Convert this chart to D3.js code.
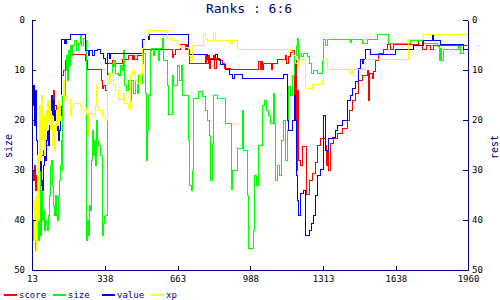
<!DOCTYPE html>
<html>
<head>
<meta charset="utf-8">
<script src="https://d3js.org/d3.v7.min.js"></script>
<style>
  body { margin: 0; background: #fff; }
  svg { display: block; }
  text { font-family: "DejaVu Sans Mono", monospace; }
</style>
</head>
<body>
<div id="chart"></div>
<script>
// ranks over time, one step series per stat
const seriesNames = ["score", "size", "value", "xp"];
const xTicks = [13, 338, 663, 988, 1313, 1638, 1960];
const rankTicks = [0, 10, 20, 30, 40, 50];

const score = [[13,30],[17,32],[22,29],[26,34],[31,31],[35,35],[40,30],[49,33],[53,27],[62,26],[71,28],[76,25],[84,22],[93,21],[102,17],[107,14],[111,17],[120,19],[129,18],[138,19],[143,11],[151,10],[160,8],[169,7.5],[178,6.7],[250,8],[259,9.8],[321,12],[326,13.6],[330,13],[339,14],[348,8.6],[370,8],[379,8.6],[415,7.8],[442,6.9],[460,7.8],[464,6.9],[468,7.8],[482,6.9],[509,5.8],[638,7.4],[643,6.8],[652,5.8],[674,4.8],[696,5.8],[701,4.8],[705,5.8],[714,8.6],[786,6.9],[790,8.6],[799,7],[803,9.5],[808,7.5],[821,6.9],[826,9.5],[834,7.5],[848,8],[862,8.6],[871,9.6],[897,9.7],[1022,8.2],[1031,9.7],[1035,8.2],[1040,9.7],[1045,8.6],[1080,9.8],[1085,8.6],[1107,7.8],[1143,7],[1147,8.6],[1156,7.2],[1165,6.4],[1174,5.9],[1183,20],[1188,8],[1192,30],[1196,14],[1201,28],[1210,29],[1219,25.2],[1237,34.9],[1250,32],[1263,30.6],[1277,28.5],[1286,24.9],[1299,23.6],[1322,25],[1326,29],[1330,26],[1335,30],[1344,24.5],[1357,23.6],[1375,22.6],[1397,21.6],[1420,19.9],[1429,17.9],[1442,15.9],[1456,14.6],[1469,11.9],[1487,10.9],[1509,9.9],[1514,15.9],[1518,10.6],[1532,11.6],[1536,10.2],[1545,7.9],[1558,6.6],[1580,5.8],[1598,4.8],[1612,5.8],[1625,4.8],[1736,3.9],[1754,5.8],[1772,4.9],[1790,5.8],[1804,4.9],[1960,4.9]];

const size = [[13,40],[17,44],[22,38],[26,46],[31,41],[35,36],[40,44],[44,30],[49,43],[53,34],[58,40],[62,38],[67,42],[71,40],[76,41],[80,42],[84,39],[89,35],[93,29],[98,28],[102,33],[107,37],[111,39],[116,35],[120,39],[125,40],[129,35],[134,32],[138,29],[143,24],[147,30],[149,15],[151,12],[156,16],[160,10],[165,7],[169,12],[174,6],[178,9],[183,5],[187,7],[192,5],[201,4],[210,6],[218,4.5],[227,2.7],[232,5],[241,3.5],[250,4],[254,44],[259,40],[263,43],[268,37],[272,38],[277,28],[281,22],[285,27],[290,24],[294,29],[299,20],[303,24],[308,25],[317,27],[326,42.9],[330,40.6],[335,39.3],[339,39],[348,11],[352,10.6],[370,8.5],[375,9.2],[379,7.9],[384,10.5],[397,11],[406,9],[415,9.9],[419,5.9],[424,13],[433,13.9],[442,12],[451,15.9],[455,12],[464,14.6],[473,12],[482,14.6],[486,11],[495,12.6],[504,8.6],[509,6.6],[518,14.6],[522,27.9],[527,21.9],[531,15],[540,5.9],[545,5.6],[553,7],[558,5.6],[576,8],[580,5.6],[594,3.6],[598,7.9],[616,12.9],[620,18.9],[638,10.9],[643,12.9],[661,8.9],[670,12],[679,9],[683,14.9],[710,24],[714,33],[723,34],[728,30],[732,15.6],[754,14.2],[772,15.2],[786,17.9],[795,20],[803,23],[808,32],[817,24.6],[821,15],[839,15.5],[875,20.6],[902,33.9],[906,30],[929,25.5],[951,17.9],[955,26],[973,35],[978,45.5],[1000,42],[1004,31],[1013,33],[1022,25],[1040,17],[1049,16],[1058,18],[1067,19],[1076,20.6],[1089,14.6],[1094,20.6],[1098,32],[1107,29],[1116,31],[1125,24],[1134,20],[1143,28],[1152,22],[1156,13.2],[1165,15],[1174,11],[1183,7],[1192,5],[1196,3.6],[1201,8],[1205,6.6],[1214,7.2],[1223,6.6],[1241,7.2],[1250,8.6],[1259,10.6],[1268,9.9],[1286,10.6],[1308,8],[1313,3.7],[1322,4.9],[1330,3.7],[1433,4.4],[1438,3.7],[1487,4.6],[1509,3.7],[1554,2.8],[1603,4.6],[1701,3.9],[1759,4.6],[1821,5.2],[1830,7.9],[1835,5.5],[1839,7.9],[1848,5.8],[1915,5.2],[1924,6.6],[1938,5.8],[1960,5.8]];

const value = [[13,17],[17,13],[22,21],[26,14],[31,24],[35,33],[40,36],[44,30],[49,28],[53,32],[58,34],[62,29],[67,26],[71,28],[76,24],[80,22],[84,25],[89,21],[93,18],[98,15],[102,19],[107,16],[111,20],[116,18],[120,22],[125,21],[129,24],[134,22],[138,19],[143,3.7],[156,4.6],[158,3.7],[160,4.6],[163,3.7],[183,2.7],[250,6],[263,7],[268,6],[281,7],[290,6],[303,5.8],[317,6.6],[330,7.5],[339,8.5],[348,6.6],[357,7.5],[361,6.6],[504,3.8],[518,2.9],[531,3.7],[536,2.8],[710,6.8],[795,7.8],[830,6.8],[839,7.8],[853,8.8],[875,9.7],[893,10.8],[906,11.6],[915,10.8],[951,11.6],[1134,10.8],[1152,20],[1156,22],[1174,20],[1183,15],[1188,20],[1192,31],[1196,36],[1201,39],[1210,34.6],[1223,34],[1232,42.9],[1250,41.9],[1259,40.5],[1268,39],[1277,35],[1286,31],[1299,29.9],[1313,19],[1322,25.9],[1335,23.6],[1353,23.3],[1366,21.9],[1375,20.9],[1397,19.9],[1420,15.9],[1433,14.9],[1442,13.7],[1456,12.2],[1469,9.5],[1478,7.8],[1487,8.6],[1491,7.8],[1500,5.8],[1523,6.8],[1634,5.8],[1714,4.9],[1759,3.9],[1799,2.9],[1804,3.9],[1835,4.7],[1938,5.8],[1960,5.8]];

const xp = [[13,38],[17,36],[22,44],[26,35],[31,46],[35,27],[40,40],[44,17],[49,28],[53,15],[58,24],[62,19],[67,27],[71,18],[76,22],[80,16],[84,20],[89,16],[93,22],[98,19],[102,25],[107,21],[111,26],[116,22],[120,18],[125,21],[129,16],[134,20],[138,17],[143,15],[151,12],[156,16],[160,15.2],[169,15.8],[183,19],[187,17.5],[196,16.6],[227,17.2],[232,18],[250,17.5],[254,18.6],[263,23],[268,18.6],[285,18.9],[294,17],[299,13],[303,17.5],[308,18],[326,19.2],[339,20],[348,11],[357,12.5],[361,10.6],[375,13],[384,13.9],[397,15.7],[419,14.5],[424,16.6],[442,17.6],[451,11],[460,9.9],[468,10.5],[473,12],[482,12.6],[495,10.5],[504,5.5],[509,4.6],[518,2.9],[531,1.9],[616,3.5],[638,4],[661,4.9],[674,5.4],[710,7],[719,7.9],[728,4.9],[777,2.5],[786,3.5],[795,3.9],[821,2.5],[830,3.9],[897,4.5],[906,3.9],[929,5.7],[1165,6.2],[1179,7],[1188,8.5],[1196,9.2],[1201,7.8],[1232,13.7],[1263,12.7],[1308,11.9],[1313,7.8],[1330,9.8],[1433,10.6],[1442,9.8],[1500,7.7],[1692,3.8],[1759,2.8],[1960,2.8]];

const seriesData = { score: score, size: size, value: value, xp: xp };
const colors = { score: "#ff0000", size: "#00ff00", value: "#0000ff", xp: "#ffff00" };
const navy = "#000080";

const W = 500, H = 300;
const svg = d3.select("#chart").append("svg")
    .attr("width", W).attr("height", H);

const x = d3.scaleLinear().domain([13, 1960]).range([32, 468]);
const y = d3.scaleLinear().domain([0, 50]).range([20, 270]);

// step lines, snapped to whole pixels so the 1px strokes stay sharp
const line = d3.line()
    .x(function(d) { return Math.round(x(d[0])); })
    .y(function(d) { return Math.round(y(d[1])); })
    .curve(d3.curveStepAfter);

const plot = svg.append("g").attr("transform", "translate(0.5,0.5)");
seriesNames.forEach(function(s) {
    plot.append("path")
        .datum(seriesData[s])
        .attr("d", line)
        .attr("fill", "none")
        .attr("stroke", colors[s])
        .attr("stroke-width", 1)
        .attr("shape-rendering", "crispEdges");
});

// axes
function styleAxis(g) {
    g.attr("font-family", null).attr("font-size", null);
    g.select(".domain").attr("stroke", navy).attr("shape-rendering", "crispEdges");
    g.selectAll(".tick line").attr("stroke", navy).attr("shape-rendering", "crispEdges");
    g.selectAll(".tick text").attr("fill", "#000").style("font-size", "9px");
}

svg.append("g").attr("transform", "translate(32,0)")
    .call(d3.axisLeft(y).tickValues(rankTicks).tickSize(-4).tickSizeOuter(0).tickPadding(7))
    .call(styleAxis);

svg.append("g").attr("transform", "translate(468,0)")
    .call(d3.axisRight(y).tickValues(rankTicks).tickSize(-5).tickSizeOuter(0).tickPadding(4))
    .call(styleAxis);

svg.append("g").attr("transform", "translate(0,270)")
    .call(d3.axisBottom(x).tickValues(xTicks).tickFormat(d3.format("d")).tickSize(-4).tickSizeOuter(0).tickPadding(6))
    .call(styleAxis);

// titles
svg.append("text")
    .attr("x", 249).attr("y", 13)
    .attr("text-anchor", "middle")
    .attr("fill", navy)
    .style("font-size", "13px")
    .text("Ranks : 6:6");

svg.append("text")
    .attr("transform", "translate(12,146) rotate(-90)")
    .attr("text-anchor", "middle")
    .attr("fill", navy)
    .style("font-size", "10px")
    .text("size");

svg.append("text")
    .attr("transform", "translate(498,147) rotate(-90)")
    .attr("text-anchor", "middle")
    .attr("fill", navy)
    .style("font-size", "10px")
    .text("rest");

// legend
const leg = svg.selectAll(".leg").data(seriesNames).enter()
    .append("g").attr("class", "leg")
    .attr("transform", function(d, i) { return "translate(" + (4 + i * 49) + ",0)"; });

leg.append("rect")
    .attr("x", 0).attr("y", 294)
    .attr("width", 13).attr("height", 2)
    .attr("fill", function(d) { return colors[d]; });

leg.append("text")
    .attr("x", 15).attr("y", 298)
    .attr("fill", navy)
    .style("font-size", "9px")
    .text(function(d) { return d; });
</script>
</body>
</html>
